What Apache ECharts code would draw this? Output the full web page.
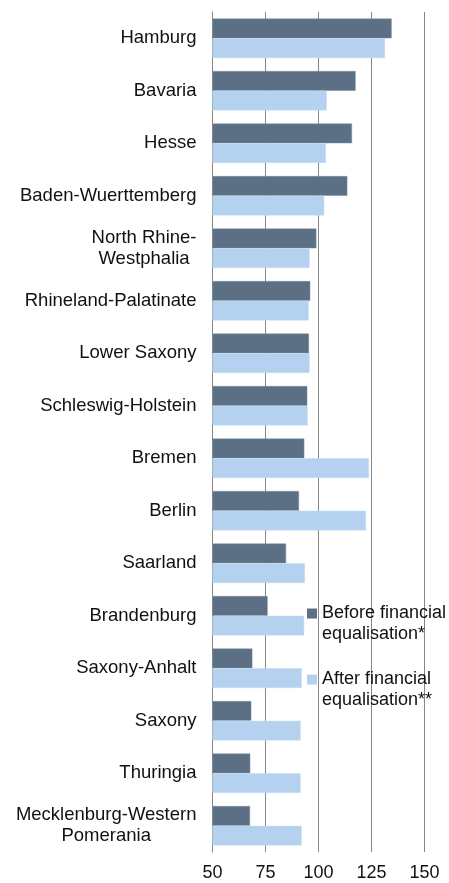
<!DOCTYPE html>
<html>
<head>
<meta charset="utf-8">
<script src="https://cdn.jsdelivr.net/npm/echarts@6/dist/echarts.min.js"></script>
<style>
html, body { margin: 0; padding: 0; background: #fff; }
#chart { width: 449px; height: 883px; }
</style>
</head>
<body>
<div id="chart"></div>
<script>
// states, top to bottom
const states = [
    'Hamburg', 'Bavaria', 'Hesse', 'Baden-Wuerttemberg', 'North Rhine-\nWestphalia',
    'Rhineland-Palatinate', 'Lower Saxony', 'Schleswig-Holstein', 'Bremen', 'Berlin',
    'Saarland', 'Brandenburg', 'Saxony-Anhalt', 'Saxony', 'Thuringia',
    'Mecklenburg-Western\nPomerania'
]
const beforeName = 'Before financial equalisation*'
const afterName = 'After financial equalisation**'
const beforeValues = [134.5, 117.5, 115.8, 113.6, 99.0, 96.1, 95.5, 94.7, 93.3, 90.8, 84.7, 76.0, 68.8, 68.3, 67.8, 67.7]
const afterValues = [131.4, 103.9, 103.5, 102.7, 95.8, 95.4, 95.8, 94.9, 123.8, 122.4, 93.6, 93.2, 92.1, 91.6, 91.6, 92.1]
const xTicks = [50, 75, 100, 125, 150]

const font = 'Liberation Sans, Arial, sans-serif'
const textColor = '#111'
const lineColor = '#868686'

// leading empty line puts the first text line level with the legend square
const legendLabels = {}
legendLabels[beforeName] = '\nBefore financial\nequalisation*'
legendLabels[afterName] = '\nAfter financial\nequalisation**'

const myChart = echarts.init(document.getElementById('chart'))

const option = {
    animation: false,
    backgroundColor: '#fff',
    textStyle: { fontFamily: font },
    grid: { left: 212.5, right: 24.5, top: 12, bottom: 31, containLabel: false },
    legend: {
        orient: 'vertical',
        left: 307,
        top: 582,
        padding: 0,
        itemGap: 3,
        itemWidth: 10,
        itemHeight: 10,
        icon: 'rect',
        itemStyle: { borderWidth: 0 },
        data: [beforeName, afterName],
        formatter: name => legendLabels[name],
        textStyle: {
            fontFamily: font,
            fontSize: 18,
            lineHeight: 21,
            color: textColor
        }
    },
    xAxis: {
        type: 'value',
        min: xTicks[0],
        max: xTicks[xTicks.length - 1],
        interval: 25,
        startValue: 50,
        axisLine: { show: false },
        axisTick: { show: false },
        splitLine: { show: true, lineStyle: { color: lineColor, width: 1 } },
        axisLabel: {
            margin: 12,
            fontFamily: font,
            fontSize: 18,
            color: textColor
        }
    },
    yAxis: {
        type: 'category',
        inverse: true,
        data: states,
        axisLine: { show: true, lineStyle: { color: lineColor, width: 1 } },
        axisTick: { show: false },
        axisLabel: {
            margin: 16,
            fontFamily: font,
            fontSize: 18.5,
            lineHeight: 21,
            color: textColor,
            formatter: v => v.indexOf('\n') < 0 ? v : v.split('\n').map(s => '{c|' + s + '}').join('\n'),
            rich: {
                c: { align: 'center', fontFamily: font, fontSize: 18.5, lineHeight: 21, color: textColor }
            }
        }
    },
    series: [
        {
            name: beforeName,
            type: 'bar',
            data: beforeValues,
            barGap: '0%',
            barCategoryGap: '25%',
            itemStyle: { color: '#5B7085', borderColor: '#7d8ea0', borderWidth: 0.5 }
        },
        {
            name: afterName,
            type: 'bar',
            data: afterValues,
            barGap: '0%',
            barCategoryGap: '25%',
            itemStyle: { color: '#B4D2F0', borderColor: '#c4dcf3', borderWidth: 0.5 }
        }
    ]
}

myChart.setOption(option)
</script>
</body>
</html>
